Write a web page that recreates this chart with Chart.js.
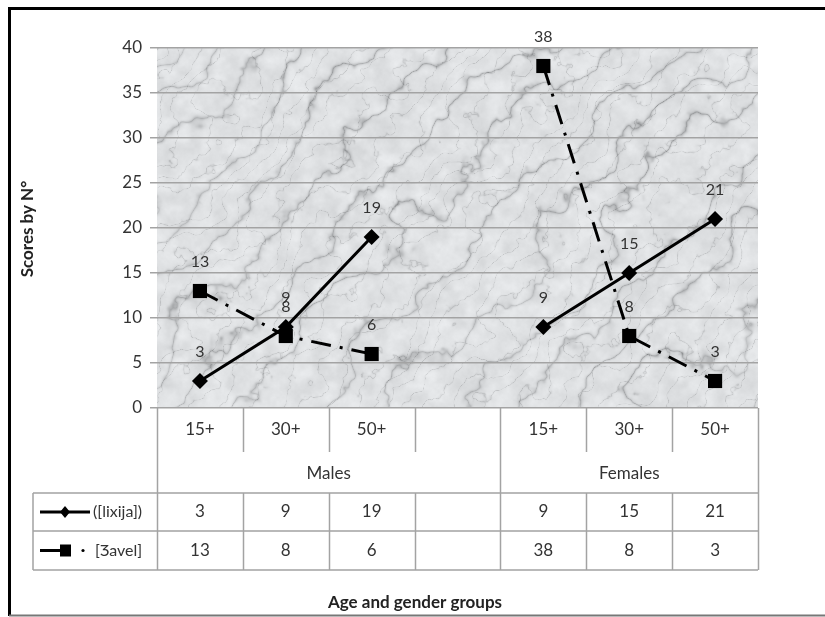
<!DOCTYPE html>
<html>
<head>
<meta charset="utf-8">
<script src="https://cdn.jsdelivr.net/npm/chart.js@4/dist/chart.umd.min.js"></script>
<style>
  html, body { margin: 0; padding: 0; background: #fff; }
  #wrap { width: 825px; height: 617px; }
</style>
</head>
<body>
<div id="wrap"><canvas id="chart"></canvas></div>
<script>
// categories (empty column separates the two gender groups)
var ageGroups = ["15+", "30+", "50+", "", "15+", "30+", "50+"];
var genderGroups = ["Males", "Females"];
var genderSpans = [4, 3]; // number of columns under each gender label
// series
var seriesNames = ["([lixija])", "[Ʒavel]"];
var lixija = [3, 9, 19, null, 9, 15, 21];
var zavel = [13, 8, 6, null, 38, 8, 3];

var FONT = "Lato, 'Open Sans', sans-serif";
var gridCol = "#a3a3a3";

// deterministic value noise for the marble texture
function hash(i, j) {
  var h = Math.sin(i * 127.1 + j * 311.7) * 43758.5453;
  return h - Math.floor(h);
}
function noise(x, y) {
  var i = Math.floor(x), j = Math.floor(y), fx = x - i, fy = y - j;
  var ux = fx * fx * (3 - 2 * fx), uy = fy * fy * (3 - 2 * fy);
  var a = hash(i, j), b = hash(i + 1, j), c = hash(i, j + 1), d = hash(i + 1, j + 1);
  return a + (b - a) * ux + (c - a) * uy + (a - b - c + d) * ux * uy;
}
function fbm(x, y) {
  var s = 0, amp = 0.5;
  for (var o = 0; o < 5; o++) { s += amp * noise(x, y); x *= 2.03; y *= 2.03; amp *= 0.5; }
  return s;
}

var marble = {
  id: 'marble',
  beforeDraw: function (chart) {
    var ctx = chart.ctx, a = chart.chartArea;
    var w = Math.round(a.right - a.left), h = Math.round(a.bottom - a.top);
    var img = ctx.createImageData(w, h);
    for (var y = 0; y < h; y++) {
      for (var x = 0; x < w; x++) {
        var n = fbm(x * 0.012, y * 0.012);
        var t = Math.sin((x + y * 1.1) * 0.045 + 9 * n);
        var v1 = Math.exp(-Math.abs(t) * 9);
        var t2 = Math.sin((x * 1.3 + y) * 0.09 + 14 * fbm(x * 0.02 + 5, y * 0.02 + 3));
        var v2 = Math.exp(-Math.abs(t2) * 14);
        var g = fbm(x * 0.08 + 11, y * 0.08 + 7);
        var c = 240 - 55 * v1 * (0.4 + n) - 30 * v2 - 30 * g;
        var i = (y * w + x) * 4;
        img.data[i] = c - 2; img.data[i + 1] = c; img.data[i + 2] = c + 2; img.data[i + 3] = 255;
      }
    }
    ctx.putImageData(img, Math.round(a.left), Math.round(a.top));
  }
};

// value labels above the points
var pointLabels = {
  id: 'pointLabels',
  afterDatasetsDraw: function (chart) {
    var ctx = chart.ctx;
    ctx.save();
    ctx.font = "16px " + FONT;
    ctx.fillStyle = "#333";
    ctx.textAlign = "center";
    ctx.textBaseline = "middle";
    chart.data.datasets.forEach(function (ds, di) {
      chart.getDatasetMeta(di).data.forEach(function (pt, i) {
        if (ds.data[i] == null) return;
        ctx.fillText(ds.data[i], pt.x, pt.y - 29);
      });
    });
    ctx.restore();
  }
};

function drawKey(ctx, di, x0, x1, y) {
  ctx.save();
  ctx.strokeStyle = "#000";
  ctx.fillStyle = "#000";
  ctx.lineWidth = 3;
  if (di === 0) {
    ctx.beginPath(); ctx.moveTo(x0, y); ctx.lineTo(x1, y); ctx.stroke();
    var cx = (x0 + x1) / 2;
    ctx.beginPath();
    ctx.moveTo(cx, y - 6); ctx.lineTo(cx + 5, y); ctx.lineTo(cx, y + 6); ctx.lineTo(cx - 5, y);
    ctx.closePath(); ctx.fill();
  } else {
    ctx.beginPath(); ctx.moveTo(x0, y); ctx.lineTo(x0 + 20, y); ctx.stroke();
    ctx.fillRect(x0 + 20, y - 6, 11, 12);
    ctx.beginPath(); ctx.arc(x0 + 43, y, 1.6, 0, Math.PI * 2); ctx.fill();
  }
  ctx.restore();
}

// data table under the plot, axis titles and frame
var dataTable = {
  id: 'dataTable',
  afterDraw: function (chart) {
    var ctx = chart.ctx, a = chart.chartArea, xs = chart.scales.x;
    var n = ageGroups.length;
    var b = [a.left];
    for (var i = 1; i < n; i++) b.push((xs.getPixelForValue(i - 1) + xs.getPixelForValue(i)) / 2);
    b.push(a.right);
    var top = a.bottom;
    var catBottom = top + 44, row1 = top + 85, row2 = top + 123, row3 = top + 162;
    var tableLeft = 33;
    var groupEdges = [0];
    genderSpans.forEach(function (s) { groupEdges.push(groupEdges[groupEdges.length - 1] + s); });

    ctx.save();
    ctx.strokeStyle = gridCol;
    ctx.lineWidth = 1.5;
    ctx.beginPath();
    for (var k = 0; k <= n; k++) {
      var x = Math.round(b[k]) + 0.5;
      if (groupEdges.indexOf(k) >= 0) {
        ctx.moveTo(x, top); ctx.lineTo(x, row3);
      } else {
        ctx.moveTo(x, top); ctx.lineTo(x, catBottom);
        ctx.moveTo(x, row1); ctx.lineTo(x, row3);
      }
    }
    ctx.moveTo(tableLeft, row1); ctx.lineTo(tableLeft, row3);
    [row1, row2, row3].forEach(function (yy) {
      ctx.moveTo(tableLeft, yy); ctx.lineTo(a.right, yy);
    });
    ctx.stroke();

    ctx.fillStyle = "#333";
    ctx.textAlign = "center";
    ctx.textBaseline = "middle";
    ctx.font = "17px " + FONT;
    for (var c = 0; c < n; c++) {
      var cx = xs.getPixelForValue(c);
      ctx.fillText(ageGroups[c], cx, top + 22);
      if (lixija[c] != null) ctx.fillText(lixija[c], cx, (row1 + row2) / 2);
      if (zavel[c] != null) ctx.fillText(zavel[c], cx, (row2 + row3) / 2);
    }
    genderGroups.forEach(function (g, gi) {
      var gx = (b[groupEdges[gi]] + b[groupEdges[gi + 1]]) / 2;
      ctx.fillText(g, gx, top + 66);
    });

    // legend keys
    ctx.textAlign = "left";
    ctx.font = "16px " + FONT;
    drawKey(ctx, 0, 40, 90, (row1 + row2) / 2);
    ctx.fillText(seriesNames[0], 93, (row1 + row2) / 2);
    drawKey(ctx, 1, 40, 90, (row2 + row3) / 2);
    ctx.fillText(seriesNames[1], 95, (row2 + row3) / 2);

    // axis titles
    ctx.fillStyle = "#222";
    ctx.font = "bold 17px " + FONT;
    ctx.textAlign = "center";
    ctx.fillText("Age and gender groups", 415, 603);
    ctx.save();
    ctx.translate(28, 229);
    ctx.rotate(-Math.PI / 2);
    ctx.font = "bold 17px " + FONT;
    ctx.fillText("Scores by N°", 0, 0);
    ctx.restore();

    // frame
    ctx.strokeStyle = "#000";
    ctx.lineWidth = 3;
    ctx.beginPath();
    ctx.moveTo(9.5, 616); ctx.lineTo(9.5, 8.5); ctx.lineTo(825, 8.5);
    ctx.stroke();
    ctx.strokeStyle = "#777";
    ctx.lineWidth = 2;
    ctx.beginPath();
    ctx.moveTo(9, 615.5); ctx.lineTo(825, 615.5);
    ctx.stroke();
    ctx.restore();
  }
};

new Chart(document.getElementById("chart"), {
  type: 'line',
  data: {
    labels: ageGroups,
    datasets: [{
      label: seriesNames[0],
      data: lixija,
      borderColor: "#000",
      backgroundColor: "#000",
      borderWidth: 3,
      pointStyle: 'rectRot',
      pointRadius: 8,
      pointBorderWidth: 0,
      tension: 0
    }, {
      label: seriesNames[1],
      data: zavel,
      borderColor: "#000",
      backgroundColor: "#000",
      borderWidth: 3,
      borderDash: [20, 9, 3, 9],
      pointStyle: 'rect',
      pointRadius: 10,
      pointBorderWidth: 0,
      tension: 0
    }]
  },
  options: {
    responsive: true,
    maintainAspectRatio: false,
    animation: false,
    layout: { padding: { top: 48, right: 67, left: 0, bottom: 0 } },
    plugins: {
      legend: { display: false },
      tooltip: { enabled: false }
    },
    scales: {
      x: {
        offset: true,
        grid: { display: false },
        border: { display: false },
        ticks: { display: false },
        afterFit: function (s) { s.height = 209; }
      },
      y: {
        min: 0,
        max: 40,
        ticks: { stepSize: 5, color: "#333", padding: 8, font: { size: 17, family: FONT } },
        grid: { color: gridCol, lineWidth: 1.5, tickLength: 7 },
        border: { display: false },
        afterFit: function (s) { s.width = 157; }
      }
    }
  },
  plugins: [marble, pointLabels, dataTable]
});
</script>
</body>
</html>
